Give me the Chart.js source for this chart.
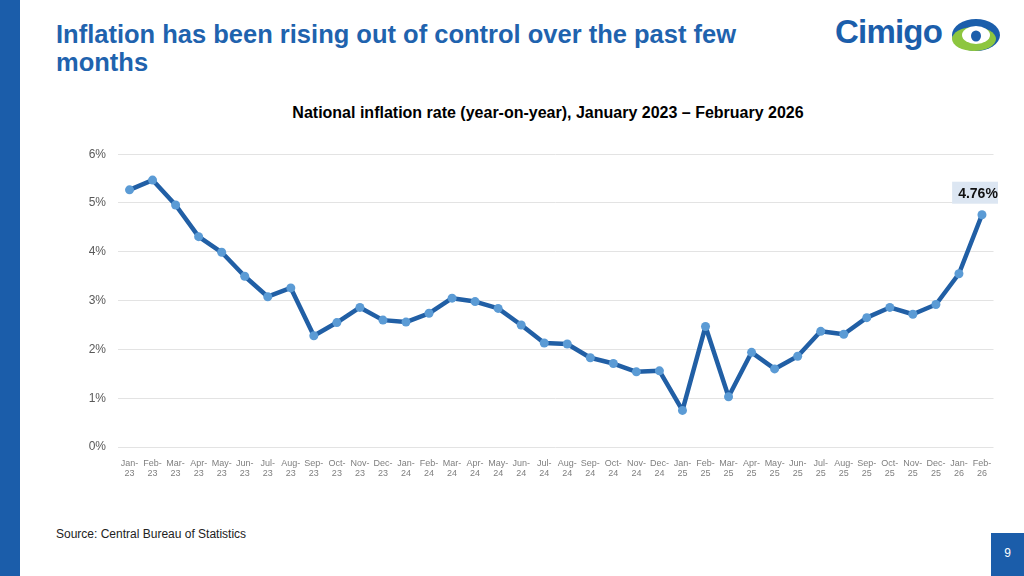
<!DOCTYPE html>
<html>
<head>
<meta charset="utf-8">
<script src="https://cdn.jsdelivr.net/npm/chart.js@4"></script>
<style>
  html, body { margin: 0; padding: 0; background: #fff; }
  body { width: 1024px; height: 576px; position: relative; overflow: hidden; font-family: "Liberation Sans", Arial, sans-serif; }
  .side-bar { position: absolute; left: 0; top: 0; width: 20px; height: 576px; background: #1B5DAA; }
  .title { position: absolute; left: 56px; top: 20px; width: 710px; color: #1F63AE; font-size: 25.5px; font-weight: bold; line-height: 28px; }
  .logo { position: absolute; left: 835px; top: 13px; }
  .logo-text { position: absolute; left: 0; top: 0; color: #1B5EAB; font-family: "Liberation Sans", Arial, sans-serif; font-weight: bold; font-size: 33px; letter-spacing: -0.8px; }
  .logo svg { position: absolute; left: 116px; top: 4px; }
  .chart-title { position: absolute; left: 0; width: 1096px; top: 104px; text-align: center; font-size: 16px; font-weight: bold; color: #000; }
  .source { position: absolute; left: 56px; top: 527px; font-size: 12px; color: #222; }
  .page-num { position: absolute; left: 991px; top: 533px; width: 33px; height: 43px; background: #1B5DAA; color: #fff; font-size: 12px; text-align: center; line-height: 40px; }
  #chart-wrap { position: absolute; left: 60px; top: 135px; width: 938px; height: 352px; }
</style>
</head>
<body>
<div class="side-bar"></div>
<div class="title">Inflation has been rising out of control over the past few months</div>
<div class="logo">
  <div class="logo-text">Cimigo</div>
  <svg width="50" height="36" viewBox="0 0 50 36">
    <ellipse cx="25" cy="18" rx="24" ry="16" fill="#1B5EAB"/>
    <ellipse cx="23" cy="22" rx="22" ry="12" fill="#8DC63F"/>
    <ellipse cx="25" cy="18" rx="14" ry="9" fill="#fff"/>
    <ellipse cx="25" cy="19" rx="5" ry="5.5" fill="#1B5EAB"/>
  </svg>
</div>
<div class="chart-title">National inflation rate (year-on-year), January 2023 – February 2026</div>
<div id="chart-wrap"><canvas id="inflationChart"></canvas></div>
<div class="source">Source: Central Bureau of Statistics</div>
<div class="page-num">9</div>

<script>
// --- Data ---
const months = [
  'Jan-23', 'Feb-23', 'Mar-23', 'Apr-23', 'May-23', 'Jun-23', 'Jul-23', 'Aug-23', 'Sep-23', 'Oct-23', 'Nov-23', 'Dec-23',
  'Jan-24', 'Feb-24', 'Mar-24', 'Apr-24', 'May-24', 'Jun-24', 'Jul-24', 'Aug-24', 'Sep-24', 'Oct-24', 'Nov-24', 'Dec-24',
  'Jan-25', 'Feb-25', 'Mar-25', 'Apr-25', 'May-25', 'Jun-25', 'Jul-25', 'Aug-25', 'Sep-25', 'Oct-25', 'Nov-25', 'Dec-25',
  'Jan-26', 'Feb-26'
];
const inflationRate = [
  5.27, 5.47, 4.96, 4.31, 3.99, 3.50, 3.08, 3.26, 2.28, 2.55, 2.86, 2.60,
  2.56, 2.74, 3.05, 2.98, 2.84, 2.50, 2.13, 2.11, 1.83, 1.71, 1.54, 1.56,
  0.75, 2.47, 1.03, 1.94, 1.60, 1.86, 2.37, 2.31, 2.65, 2.86, 2.72, 2.92,
  3.55, 4.76
];
const yTicks = [0, 1, 2, 3, 4, 5, 6];

// two-line tick labels like "Jan-" / "23"
const tickLabels = months.map(m => {
    const parts = m.split('-');
    return [parts[0] + '-', parts[1]];
});

// --- Last point label box ---
const lastLabelPlugin = {
    id: 'lastLabel',
    afterDatasetsDraw(chart) {
        const meta = chart.getDatasetMeta(0);
        const idx = inflationRate.length - 1;
        const pt = meta.data[idx];
        if (!pt) return;
        const ctx = chart.ctx;
        const text = inflationRate[idx].toFixed(2) + '%';
        ctx.save();
        ctx.font = 'bold 14px "Liberation Sans", Arial, sans-serif';
        const w = ctx.measureText(text).width + 12;
        const h = 22;
        const cx = pt.x - 4;
        const bottom = pt.y - 11;
        ctx.fillStyle = '#DCE6F2';
        ctx.fillRect(cx - w / 2, bottom - h, w, h);
        ctx.fillStyle = '#111';
        ctx.textAlign = 'center';
        ctx.textBaseline = 'middle';
        ctx.fillText(text, cx, bottom - h / 2 + 1);
        ctx.restore();
    }
};

const ctx = document.getElementById('inflationChart');
new Chart(ctx, {
    type: 'line',
    data: {
        labels: tickLabels,
        datasets: [{
            label: 'Inflation',
            data: inflationRate,
            borderColor: '#215FA5',
            borderWidth: 4.5,
            borderJoinStyle: 'round',
            borderCapStyle: 'round',
            tension: 0,
            pointRadius: 4.5,
            pointBackgroundColor: '#5B9BD5',
            pointBorderColor: '#5B9BD5',
            pointBorderWidth: 0,
            fill: false
        }]
    },
    options: {
        responsive: true,
        maintainAspectRatio: false,
        animation: false,
        layout: { padding: { top: 8, right: 0, left: 0, bottom: 0 } },
        plugins: {
            legend: { display: false },
            tooltip: { enabled: false }
        },
        scales: {
            x: {
                offset: true,
                grid: { display: false },
                border: { display: false },
                ticks: {
                    autoSkip: false,
                    maxRotation: 0,
                    minRotation: 0,
                    padding: 4,
                    color: '#7F7F7F',
                    font: { size: 9, family: '"Liberation Sans", Arial, sans-serif', lineHeight: 1.1 }
                },
                afterFit: s => { s.height = 40; }
            },
            y: {
                min: yTicks[0],
                max: yTicks[yTicks.length - 1],
                afterBuildTicks: s => { s.ticks = yTicks.map(v => ({ value: v })); },
                grid: { color: '#E3E3E3', lineWidth: 1, drawTicks: false },
                border: { display: false },
                ticks: {
                    padding: 12,
                    color: '#595959',
                    font: { size: 12, family: '"Liberation Sans", Arial, sans-serif' },
                    callback: v => v + '%'
                },
                afterFit: s => { s.width = 58; }
            }
        }
    },
    plugins: [lastLabelPlugin]
});
</script>
</body>
</html>
